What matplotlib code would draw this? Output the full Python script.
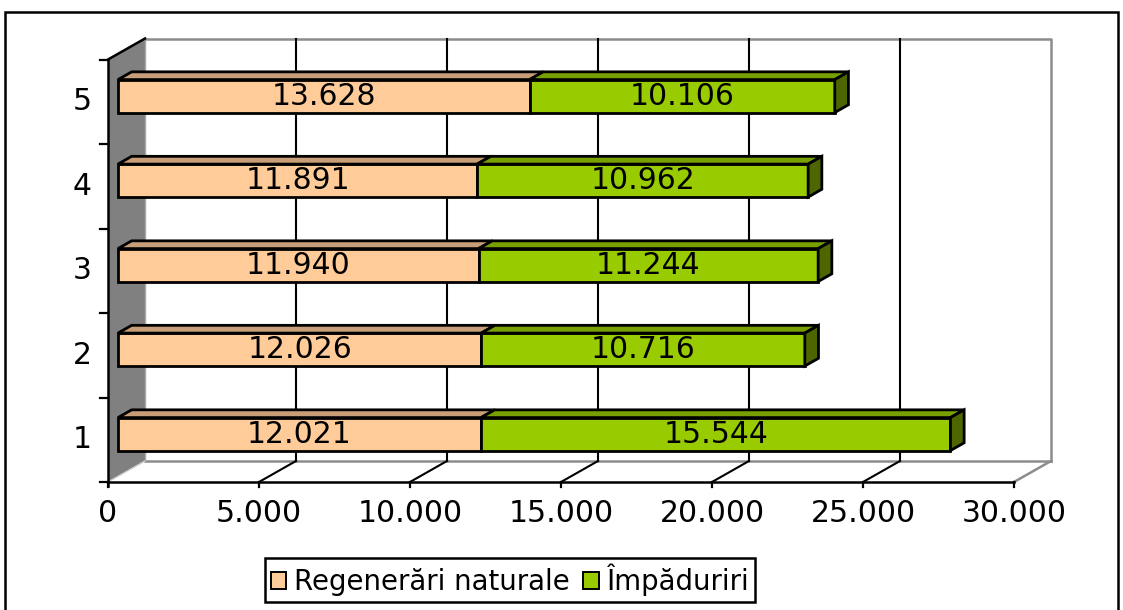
import matplotlib
matplotlib.use("Agg")
import matplotlib.pyplot as plt
from matplotlib.patches import Patch, Rectangle

# data
categories = ["1", "2", "3", "4", "5"]
regenerari = [12021, 12026, 11940, 11891, 13628]
impaduriri = [15544, 10716, 11244, 10962, 10106]
series_names = ["Regenerări naturale", "Împăduriri"]
x_ticks = [0, 5000, 10000, 15000, 20000, 25000, 30000]
x_tick_labels = ["0", "5.000", "10.000", "15.000", "20.000", "25.000", "30.000"]

PEACH = "#FFCC99"
PEACH_TOP = "#C89E78"
GREEN = "#99CC00"
GREEN_TOP = "#78A000"
GREEN_SIDE = "#4D6600"
WALL = "#808080"
GRID_GRAY = "#8c8c8c"

# pseudo-3d geometry (data units)
XMAX = 30000
Y0, Y1 = 0.5, 5.5
DX, DY = 1225, 0.2485        # depth vector of the plot box
F0, F1 = 0.27, 0.64          # bar front / back depth fraction
HALF = 0.195                 # half bar height
PX_X = 906 / 30000           # pixels per value unit
PX_Y = 84.5                  # pixels per category unit

plt.rcParams["font.family"] = ["DejaVu Sans"]
FS = 21.5
FS_LEG = 19.8
LW = 2.0


def fmt(v):
    return f"{v:,}".replace(",", ".")


fig = plt.figure(figsize=(11.23, 6.1), dpi=100)
ax = fig.add_axes([0, 0, 1, 1])
ax.set_xlim(-108 / PX_X, (1123 - 108) / PX_X)
ax.set_ylim(0.5 - 128 / PX_Y, 0.5 + 482 / PX_Y)
ax.axis("off")

# outer frame
fig.patches.append(Rectangle((5 / 1123, -0.02), 1113 / 1123, 598 / 610 + 0.02,
                             transform=fig.transFigure, fill=False,
                             edgecolor="black", lw=1.8))

# left wall
ax.fill([0, 0, DX, DX], [Y0, Y1, Y1 + DY, Y0 + DY], color=WALL, lw=0, zorder=1)
ax.plot([DX, DX], [Y0 + DY, Y1 + DY], color="#a8a8a8", lw=1, zorder=1)
ax.plot([0, DX], [Y0, Y0 + DY], color="#d0d0d0", lw=1, zorder=2)

# back wall and floor outline
ax.plot([DX, XMAX + DX, XMAX + DX], [Y1 + DY, Y1 + DY, Y0 + DY], color=GRID_GRAY, lw=1.8, zorder=1)
ax.plot([DX, XMAX + DX], [Y0 + DY, Y0 + DY], color=GRID_GRAY, lw=1.8, zorder=1)
ax.plot([XMAX, XMAX + DX], [Y0, Y0 + DY], color=GRID_GRAY, lw=1.8, zorder=1)

for t in x_ticks[1:-1]:
    ax.plot([t + DX, t + DX], [Y0 + DY, Y1 + DY], color="black", lw=1.5, zorder=1)
    ax.plot([t, t + DX], [Y0, Y0 + DY], color="black", lw=1.5, zorder=1)

# front axes
ax.plot([0, XMAX], [Y0, Y0], color="black", lw=1.8, zorder=2)
ax.plot([0, 0], [Y0 - 4 / PX_Y, Y1], color="black", lw=1.8, zorder=2)
ax.plot([0, DX], [Y1, Y1 + DY], color="black", lw=1.8, zorder=2)
for i in range(len(categories) + 1):
    b = Y0 + i
    ax.plot([-8 / PX_X, 0], [b, b], color="black", lw=1.6, zorder=2)
for t, lab in zip(x_ticks, x_tick_labels):
    ax.plot([t, t], [Y0, Y0 - 5 / PX_Y], color="black", lw=1.6, zorder=2)
    ax.text(t, Y0 - 31 / PX_Y, lab, ha="center", va="center", fontsize=FS)
for i, lab in enumerate(categories):
    ax.text(-26 / PX_X, i + 1, lab, ha="center", va="center", fontsize=FS)

# bars
for i in range(len(categories)):
    c = i + 1
    bot, top = c - HALF, c + HALF
    segs = [(0, regenerari[i], PEACH, PEACH_TOP),
            (regenerari[i], regenerari[i] + impaduriri[i], GREEN, GREEN_TOP)]
    for x0, x1, face, topc in segs:
        fx0, fx1 = x0 + F0 * DX, x1 + F0 * DX
        ax.fill([fx0, fx1, fx1, fx0],
                [bot + F0 * DY, bot + F0 * DY, top + F0 * DY, top + F0 * DY],
                facecolor=face, edgecolor="black", lw=LW, zorder=3)
        ax.fill([fx0, fx1, x1 + F1 * DX, x0 + F1 * DX],
                [top + F0 * DY, top + F0 * DY, top + F1 * DY, top + F1 * DY],
                facecolor=topc, edgecolor="black", lw=LW, zorder=3)
        ax.text((fx0 + fx1) / 2, c + F0 * DY, fmt(x1 - x0),
                ha="center", va="center", fontsize=FS, zorder=4)
    xt = regenerari[i] + impaduriri[i]
    ax.fill([xt + F0 * DX, xt + F1 * DX, xt + F1 * DX, xt + F0 * DX],
            [bot + F0 * DY, bot + F1 * DY, top + F1 * DY, top + F0 * DY],
            facecolor=GREEN_SIDE, edgecolor="black", lw=LW, zorder=3)

handles = [Patch(facecolor=PEACH, edgecolor="black", lw=1.4),
           Patch(facecolor=GREEN, edgecolor="black", lw=1.4)]
leg = ax.legend(handles, series_names, loc="center",
                bbox_to_anchor=(510 / 1123, 1 - 580 / 610),
                bbox_transform=fig.transFigure, ncol=2, fontsize=FS_LEG,
                frameon=True, fancybox=False, edgecolor="black", framealpha=1,
                handlelength=0.55, handleheight=0.55, handletextpad=0.3,
                columnspacing=0.5, borderpad=0.2, borderaxespad=0)
leg.get_frame().set_linewidth(1.8)

fig.savefig("out.png", dpi=100)
